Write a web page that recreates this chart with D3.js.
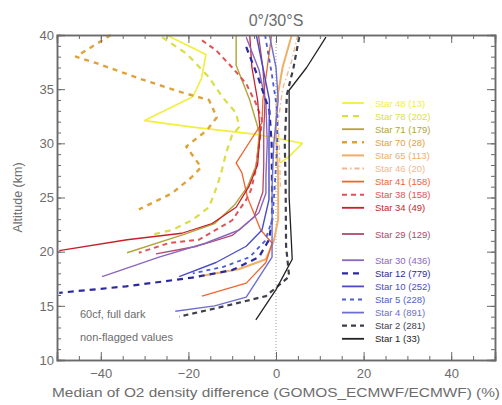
<!DOCTYPE html>
<html>
<head>
<meta charset="utf-8">
<script src="https://cdn.jsdelivr.net/npm/d3@7"></script>
<style>
  html, body { margin: 0; padding: 0; background: #fff; }
  svg { display: block; font-family: "Liberation Sans", Arial, sans-serif; }
</style>
</head>
<body>
<svg id="chart" width="502" height="405"></svg>
<script>
// Median O2 density difference profiles, GOMOS vs ECMWF, 0°/30°S band.
// Each profile: [difference (%), altitude (km)]
const star48 = [[-25,40],[-16,38.2],[-17,36],[-19,34.3],[-30,32.1],[-19,31.5],[-4,30.8],[6,30],[3,28.8],[1,28.2]];
const star78 = [[-26,39.8],[-20.5,38.3],[-15.3,36.1],[-12.3,34.3],[-9.1,32.8],[-8.4,31.5],[-10,30.8],[-11.4,29.1],[-12.3,27.6],[-13.5,26],[-15.3,24.1],[-19.2,22.9],[-23.7,22],[-28,21.6]];
const star71 = [[-9.1,40],[-9.1,37.2],[-6,34],[-3.8,31],[-4.5,28],[-6.5,26],[-9.5,24.3],[-14,22.6],[-21,21.6],[-34,19.9]];
const star70 = [[-37.7,40],[-45.7,38],[-41,37.4],[-30.6,35.9],[-21.5,34.7],[-15.3,34],[-13.5,32.4],[-15.8,31.2],[-20.5,29.7],[-17.1,27.8],[-19.2,26.9],[-23.7,25.4],[-26.7,24.8],[-31.3,23.9]];
const star65 = [[3.6,40],[1.5,37],[0.2,34],[0,31],[0.5,27],[0.5,23],[-0.5,21],[-2.3,19.3],[-8.4,18.4],[-17.6,17.7]];
const star46 = [[5,40],[3.5,37.5],[1.5,35],[0.5,32],[0.8,29],[1,26]];
const star41 = [[-1,40],[-2,37],[-3,34],[-3.2,31.9],[-9.1,28.2],[-7.8,27.3],[-6.5,25],[-3.5,22],[-0.9,20.8],[-2.3,19],[-6.8,17.1],[-16.9,15.9]];
const star38 = [[-16.9,39.5],[-13.7,38.6],[-10,37],[-6.8,35.5],[-4.6,33.7],[-3.2,32.2],[-3.9,29.7],[-4.6,27.6],[-5.7,25.7],[-6.8,24.8],[-10,22.9],[-17.6,21.1],[-24.4,20.8],[-31.3,19.9]];
const star34 = [[-6,40],[-5.5,37],[-4.2,34],[-3.6,31],[-4.2,28],[-6.2,26],[-9.1,24.1],[-14.6,22.6],[-21.5,21.7],[-34,21.1],[-49.5,20.1]];
const star29 = [[-4,40],[-3,37],[-2.5,34],[-2.8,31],[-2.8,28],[-3,25.5],[-5,23.2],[-10,21.5],[-18,20.5],[-27.4,19.8]];
const star30 = [[-6.8,39.8],[-3.9,36.8],[-2.3,33.7],[-2,30],[-2.3,27],[-2.3,25.4],[-3.9,23.6],[-8.4,22],[-16,20.8],[-26.7,19.5],[-39.7,17.7]];
const star12 = [[-6.8,38.9],[-4,36],[-1.5,33],[-1,30],[-0.9,26],[-0.9,22.9],[-1.6,21.1],[-3.9,19.5],[-10,18.3],[-19.2,17.6],[-34.2,16.8],[-49.5,16.2]];
const star10 = [[-4.5,40],[-3,37],[-1.5,34],[-1.6,30],[-1.6,27],[-1.6,24.8],[-3.2,22],[-6.8,20.5],[-13.7,19],[-22.1,17.7]];
const star5  = [[-2.5,40],[-1,36.5],[0.3,33],[0.3,30],[-0.3,26],[-0.8,23],[-2.5,21],[-6,19.5],[-12,18.6],[-19,18]];
const star4  = [[-1.5,40],[0,37],[0.5,34],[-0.5,30],[-0.9,26],[-0.9,23],[-0.9,19.5],[-6.8,15.8],[-14,15],[-23,14.5]];
const star2  = [[5.3,39.8],[4,37],[2.5,34.5],[2,30],[2.2,26],[2.3,20.5],[3,17.7],[-2.3,15.9],[-11.4,15],[-22.1,14]];
const star1  = [[11.4,39.8],[7,37],[3,34.9],[3,30],[3,25],[3.5,21],[3.7,19.3],[0,16.5],[-4.6,13.7]];

const legendLabels = ["Star 48 (13)","Star 78 (202)","Star 71 (179)","Star 70 (28)","Star 65 (113)","Star 46 (20)",
  "Star 41 (158)","Star 38 (158)","Star 34 (49)","Star 29 (129)","Star 30 (436)","Star 12 (779)",
  "Star 10 (252)","Star 5 (228)","Star 4 (891)","Star 2 (281)","Star 1 (33)"];
const profiles = [star48,star78,star71,star70,star65,star46,star41,star38,star34,star29,star30,star12,star10,star5,star4,star2,star1];

const xTicksMajor = [-40,-20,0,20,40];
const yTicksMajor = [10,15,20,25,30,35,40];

// Drawing styles per profile (colour, width, dash)
const styles = [
  {c:"#f2ee3c", w:1.6, d:null},
  {c:"#d9de48", w:2.2, d:"6,5"},
  {c:"#b0a43a", w:1.4, d:null},
  {c:"#dfa23a", w:2.4, d:"5,5"},
  {c:"#f0ae66", w:2.0, d:null},
  {c:"#f1b88e", w:1.4, d:"5,3,1.5,3"},
  {c:"#f0652e", w:1.3, d:null},
  {c:"#e05256", w:2.0, d:"5,4"},
  {c:"#c81e2a", w:1.3, d:null},
  {c:"#b0486a", w:1.3, d:null},
  {c:"#8a66c0", w:1.4, d:null},
  {c:"#2a2aa0", w:2.2, d:"6,5"},
  {c:"#4c4cc6", w:1.4, d:null},
  {c:"#4a5ed2", w:1.8, d:"4,4"},
  {c:"#6e6ed2", w:1.4, d:null},
  {c:"#3e3e4e", w:2.2, d:"5,4"},
  {c:"#222222", w:1.3, d:null}
];
const legendSlots = [0,1,2,3,4,5,6,7,8,10,12,13,14,15,16,17,18];

const svg = d3.select("#chart");
const margin = {left:57, right:7, top:35, bottom:45};
const W = 502, H = 405;
const x = d3.scaleLinear().domain([-50,50]).range([margin.left, W - margin.right]);
const y = d3.scaleLinear().domain([10,40]).range([H - margin.bottom, margin.top]);
const axisColor = "#6a6a6a";
const textColor = "#6c6c6c";

// zero reference line
svg.append("line")
  .attr("x1", x(0)).attr("x2", x(0))
  .attr("y1", y(10)).attr("y2", y(40))
  .attr("stroke", "#9a9a9a").attr("stroke-width", 1)
  .attr("stroke-dasharray", "1,2");

// profiles
const line = d3.line().x(d => x(d[0])).y(d => y(d[1]));
const plot = svg.append("g");
profiles.forEach((p, i) => {
  plot.append("path")
    .attr("d", line(p))
    .attr("fill", "none")
    .attr("stroke", styles[i].c)
    .attr("stroke-width", styles[i].w)
    .attr("stroke-dasharray", styles[i].d)
    .attr("stroke-linejoin", "round");
});

// frame with inward ticks on all four sides
const frame = svg.append("g");
const axB = d3.axisBottom(x).tickValues(d3.range(-50, 51, 5)).tickSize(-4).tickFormat("");
const axT = d3.axisTop(x).tickValues(d3.range(-50, 51, 5)).tickSize(-4).tickFormat("");
const axL = d3.axisLeft(y).tickValues(d3.range(10, 41, 1)).tickSize(-4).tickFormat("");
const axR = d3.axisRight(y).tickValues(d3.range(10, 41, 1)).tickSize(-4).tickFormat("");
const axBM = d3.axisBottom(x).tickValues(xTicksMajor).tickSize(-8).tickPadding(9).tickFormat(d => d === 0 ? "0" : d3.format("")(d).replace("-", "\u2212"));
const axTM = d3.axisTop(x).tickValues(xTicksMajor).tickSize(-8).tickFormat("");
const axLM = d3.axisLeft(y).tickValues(yTicksMajor).tickSize(-8).tickPadding(3);
const axRM = d3.axisRight(y).tickValues(yTicksMajor).tickSize(-8).tickFormat("");

[[axB, `translate(0,${y(10)})`], [axBM, `translate(0,${y(10)})`],
 [axT, `translate(0,${y(40)})`], [axTM, `translate(0,${y(40)})`],
 [axL, `translate(${x(-50)},0)`], [axLM, `translate(${x(-50)},0)`],
 [axR, `translate(${x(50)},0)`], [axRM, `translate(${x(50)},0)`]].forEach(([a, t]) => {
  const g = frame.append("g").attr("transform", t).call(a);
  g.selectAll("path").attr("stroke", axisColor).attr("stroke-width", 1.5);
  g.selectAll("line").attr("stroke", axisColor).attr("stroke-width", 1);
  g.selectAll("text").attr("fill", textColor).style("font-size", "13px");
});

// titles
svg.append("text").attr("x", x(0)).attr("y", 26).attr("text-anchor", "middle")
  .attr("fill", textColor).style("font-size", "16px").text("0°/30°S");
svg.append("text").attr("x", x(0)).attr("y", 397).attr("text-anchor", "middle")
  .attr("fill", textColor).style("font-size", "12.5px")
  .attr("textLength", 448).attr("lengthAdjust", "spacingAndGlyphs")
  .text("Median of O2 density difference (GOMOS_ECMWF/ECMWF) (%)");
svg.append("text").attr("transform", `translate(22,${(y(10)+y(40))/2}) rotate(-90)`)
  .attr("text-anchor", "middle").attr("fill", textColor).style("font-size", "12.5px")
  .text("Altitude (km)");

// annotation
svg.append("text").attr("x", 80).attr("y", 318).attr("fill", textColor)
  .style("font-size", "11px").text("60cf, full dark");
svg.append("text").attr("x", 80).attr("y", 341).attr("fill", textColor)
  .style("font-size", "11px").text("non-flagged values");

// legend
const lg = svg.append("g");
legendLabels.forEach((lab, i) => {
  const yy = 103 + legendSlots[i] * 13.1;
  lg.append("line").attr("x1", 342).attr("x2", 364).attr("y1", yy).attr("y2", yy)
    .attr("stroke", styles[i].c).attr("stroke-width", Math.max(styles[i].w, 1.8))
    .attr("stroke-dasharray", styles[i].d);
  lg.append("text").attr("x", 375).attr("y", yy + 3.5)
    .attr("fill", styles[i].c).style("font-size", "9.5px").text(lab);
});
</script>
</body>
</html>
